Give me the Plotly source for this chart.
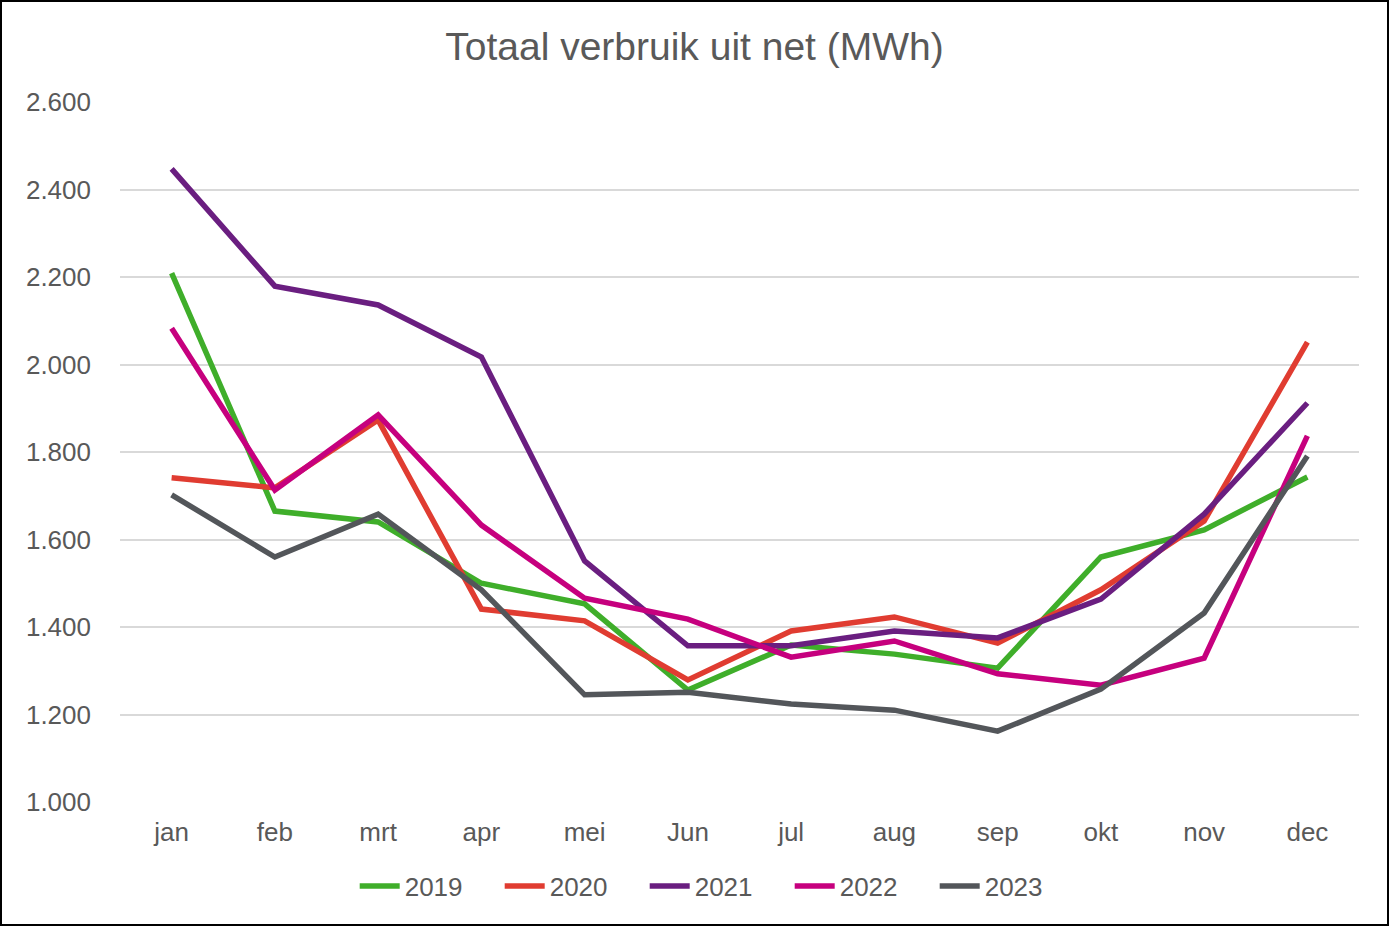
import plotly.graph_objects as go

months = ["jan", "feb", "mrt", "apr", "mei", "Jun", "jul", "aug", "sep", "okt", "nov", "dec"]
y2019 = [2209, 1665, 1640, 1500, 1453, 1256, 1359, 1338, 1306, 1560, 1622, 1743]
y2020 = [1741, 1718, 1873, 1441, 1414, 1279, 1391, 1423, 1363, 1485, 1642, 2051]
y2021 = [2447, 2179, 2136, 2017, 1551, 1357, 1357, 1391, 1375, 1464, 1658, 1912]
y2022 = [2083, 1713, 1885, 1633, 1466, 1418, 1331, 1368, 1293, 1267, 1329, 1837]
y2023 = [1702, 1560, 1658, 1485, 1245, 1251, 1224, 1210, 1162, 1258, 1432, 1791]
y_ticks = [1000, 1200, 1400, 1600, 1800, 2000, 2200, 2400, 2600]
y_tick_labels = ["1.000", "1.200", "1.400", "1.600", "1.800", "2.000", "2.200", "2.400", "2.600"]

series = [
    ("2019", y2019, "#3FAE2A"),
    ("2020", y2020, "#E03C31"),
    ("2021", y2021, "#6A1E80"),
    ("2022", y2022, "#C6007E"),
    ("2023", y2023, "#53565A"),
]

fig = go.Figure()
for name, vals, col in series:
    fig.add_trace(go.Scatter(x=months, y=vals, name=name, mode="lines",
                             line=dict(color=col, width=5.5)))

W, H = 1389, 926
ml, mr, mt, mb = 120, 30, 102, 124
pw, ph = W - ml - mr, H - mt - mb

fig.update_layout(
    width=W, height=H,
    margin=dict(l=ml, r=mr, t=mt, b=mb),
    paper_bgcolor="white", plot_bgcolor="white",
    font=dict(family="Liberation Sans, Arial, sans-serif", color="#595959", size=26),
    title=dict(text="Totaal verbruik uit net (MWh)", x=0.5, xanchor="center",
               y=1 - 46 / H, yanchor="middle",
               font=dict(size=39, color="#595959")),
    xaxis=dict(type="category", range=[-0.5, 11.5], showgrid=False, showline=False,
               ticks="", tickfont=dict(size=26, color="#595959"), ticklabelstandoff=12),
    yaxis=dict(range=[1000, 2600], tickvals=y_ticks, ticktext=y_tick_labels,
               showgrid=True, gridcolor="#D9D9D9", gridwidth=2, zeroline=False,
               showline=False, ticks="", tickfont=dict(size=26, color="#595959"),
               ticklabelstandoff=28),
    legend=dict(orientation="h", x=0.482, xanchor="center", y=-(886 - 802) / ph,
                yanchor="middle", font=dict(size=26, color="#595959"),
                itemwidth=40, entrywidth=90, entrywidthmode="pixels",
                tracegroupgap=0),
    showlegend=True,
)

fig.add_shape(type="rect", xref="paper", yref="paper",
              x0=-(ml - 1) / pw, x1=(W - ml - 1) / pw,
              y0=-(mb - 1) / ph, y1=(H - mb - 1) / ph,
              line=dict(color="black", width=2), fillcolor="rgba(0,0,0,0)", layer="above")

fig.write_html("out.html", config={"displayModeBar": False},
               post_script="document.body.style.margin='0';document.body.style.overflow='hidden';")
